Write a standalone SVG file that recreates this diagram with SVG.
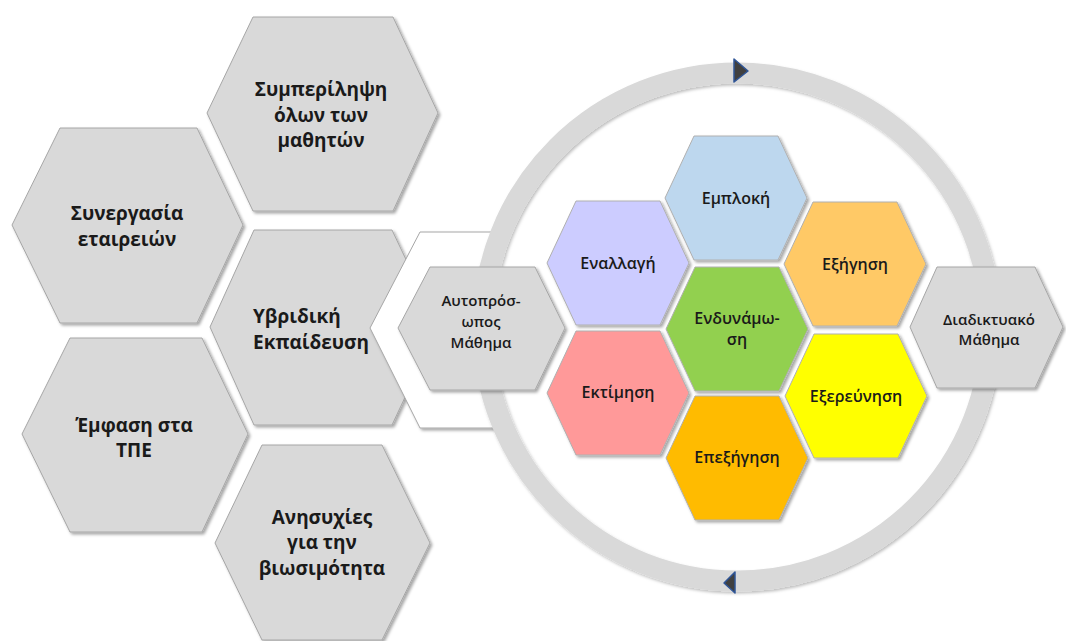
<svg xmlns="http://www.w3.org/2000/svg" width="1066" height="641" viewBox="0 0 1066 641">
<defs>
<filter id="sh" x="-10%" y="-10%" width="130%" height="130%">
<feDropShadow dx="2" dy="2" stdDeviation="1.5" flood-color="#000" flood-opacity="0.35"/>
</filter>
<filter id="rsh" x="-10%" y="-10%" width="120%" height="120%">
<feDropShadow dx="1.5" dy="2" stdDeviation="1.5" flood-color="#000" flood-opacity="0.25"/>
</filter>
<style>
.g{fill:#d9d9d9;stroke:#a6a6a6;stroke-width:1;filter:url(#sh)}
.c{stroke:#b0b0b0;stroke-width:1;filter:url(#sh)}
.tb{font-family:"Open Sans","Noto Sans",sans-serif;font-weight:700;font-size:19px;fill:#1a1a1a;text-anchor:middle}
.tc{font-family:"Open Sans","Noto Sans",sans-serif;font-weight:600;font-size:16px;fill:#1a1a1a;text-anchor:middle}
.ts{font-family:"Open Sans","Noto Sans",sans-serif;font-weight:600;font-size:15px;fill:#1a1a1a;text-anchor:middle}
.arr{fill:#404040;stroke:#2f5597;stroke-width:1.5;stroke-linejoin:round}
</style>
</defs>
<rect width="1066" height="641" fill="#ffffff"/>

<g id="n-symperilipsi">
<polygon class="g" points="253,17 393,17 438,113 393,211 253,211 207,113"/>
<text class="tb" x="321" y="96">Συμπερίληψη</text>
<text class="tb" x="321" y="122">όλων των</text>
<text class="tb" x="321" y="147">μαθητών</text>
</g>
<g id="n-synergasia">
<polygon class="g" points="60,128 197,128 243,225 197,323 60,323 12,225"/>
<text class="tb" x="127" y="220">Συνεργασία</text>
<text class="tb" x="127" y="246">εταιρειών</text>
</g>
<g id="n-yvridiki">
<polygon class="g" points="254,230 392,230 438,327 392,425 254,425 210,327"/>
<text class="tb" x="253" y="323" style="text-anchor:start">Υβριδική</text>
<text class="tb" x="253" y="349" style="text-anchor:start">Εκπαίδευση</text>
</g>
<g id="n-emfasi">
<polygon class="g" points="70,338 202,338 248,434 202,532 70,532 22,434"/>
<text class="tb" x="134" y="432">Έμφαση στα</text>
<text class="tb" x="134" y="457">ΤΠΕ</text>
</g>
<g id="n-anisyxies">
<polygon class="g" points="262,445 382,445 430,543 382,640 262,640 215,543"/>
<text class="tb" x="322" y="524">Ανησυχίες</text>
<text class="tb" x="322" y="549">για την</text>
<text class="tb" x="322" y="575">βιωσιμότητα</text>
</g>

<g id="n-white">
<polygon points="370,328 420,232 600,232 600,428 420,428" fill="#ffffff" stroke="#a6a6a6" stroke-width="1" filter="url(#sh)"/>
<circle cx="737" cy="327" r="250" fill="#ffffff"/>
</g>

<g id="connectors">
<circle cx="737" cy="327" r="254" fill="none" stroke="#d9d9d9" stroke-width="21" filter="url(#rsh)"/>
<polygon class="arr" points="734,59 748,71 734,82"/>
<polygon class="arr" points="735,572 724,583 735,593"/>
</g>

<g id="n-autoprosopo">
<polygon class="g" points="430,267 535,267 565,328 535,390 430,390 398,328"/>
<text class="ts" x="481" y="306">Αυτοπρόσ-</text>
<text class="ts" x="481" y="327">ωπος</text>
<text class="ts" x="481" y="348">Μάθημα</text>
</g>
<g id="n-diadiktyako">
<polygon class="g" points="937,267 1035,267 1063,327 1035,388 937,388 910,327"/>
<text class="ts" x="989" y="325">Διαδικτυακό</text>
<text class="ts" x="989" y="345">Μάθημα</text>
</g>

<g id="n-emploki">
<polygon class="c" fill="#bdd7ee" transform="translate(736,198)" points="-42,-62 42,-62 71,0 42,62 -42,62 -71,0"/>
<text class="tc" x="736" y="204">Εμπλοκή</text>
</g>
<g id="n-enallagi">
<polygon class="c" fill="#ccccff" transform="translate(618,263)" points="-42,-62 42,-62 71,0 42,62 -42,62 -71,0"/>
<text class="tc" x="618" y="269">Εναλλαγή</text>
</g>
<g id="n-exigisi">
<polygon class="c" fill="#ffc966" transform="translate(855,264)" points="-42,-62 42,-62 71,0 42,62 -42,62 -71,0"/>
<text class="tc" x="855" y="270">Εξήγηση</text>
</g>
<g id="n-endynamosi">
<polygon class="c" fill="#92d050" transform="translate(737,329)" points="-42,-62 42,-62 71,0 42,62 -42,62 -71,0"/>
<text class="tc" x="737" y="324">Ενδυνάμω-</text>
<text class="tc" x="737" y="345">ση</text>
</g>
<g id="n-ektimisi">
<polygon class="c" fill="#ff9999" transform="translate(618,393)" points="-42,-62 42,-62 71,0 42,62 -42,62 -71,0"/>
<text class="tc" x="618" y="398">Εκτίμηση</text>
</g>
<g id="n-exerevnisi">
<polygon class="c" fill="#ffff00" transform="translate(856,396)" points="-42,-62 42,-62 71,0 42,62 -42,62 -71,0"/>
<text class="tc" x="856" y="402">Εξερεύνηση</text>
</g>
<g id="n-epexigisi">
<polygon class="c" fill="#ffbb00" transform="translate(737,458)" points="-42,-62 42,-62 71,0 42,62 -42,62 -71,0"/>
<text class="tc" x="737" y="463">Επεξήγηση</text>
</g>
</svg>
